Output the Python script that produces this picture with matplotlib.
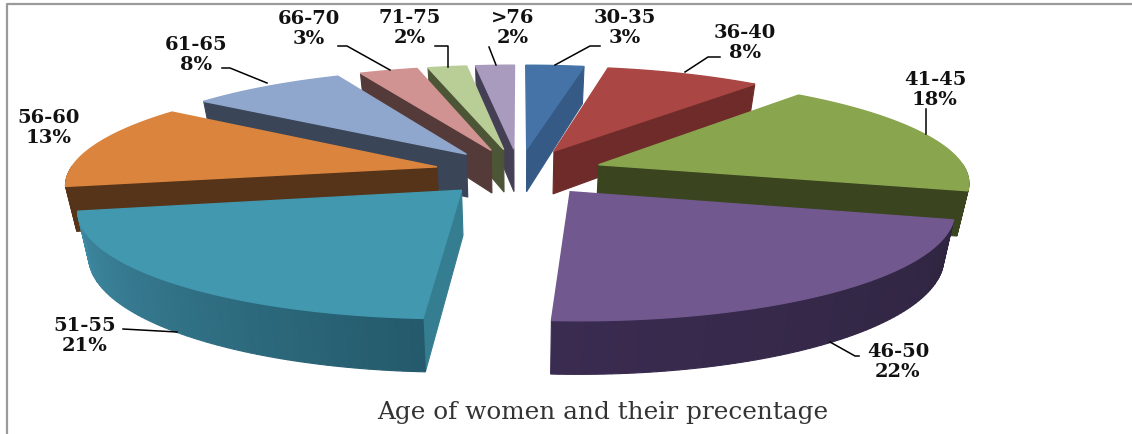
import numpy as np
from matplotlib import pyplot as plt
from matplotlib.colors import to_rgb

age_groups = ['30-35', '36-40', '41-45', '46-50', '51-55', '56-60', '61-65', '66-70', '71-75', '>76']
percentages = [3, 8, 18, 22, 21, 13, 8, 3, 2, 2]

top_colors = ['#4573a7', '#aa4644', '#89a54e', '#71588f', '#4198af',
              '#db843d', '#8fa6cd', '#d19392', '#b9cd96', '#a99bbd']
wall_colors = ['#355a85', '#6e2b2a', '#3a441f', '#2f2540', '#357d90',
               '#56341a', '#3a4558', '#553a3a', '#4c5535', '#453f55']
# outer rim colours, (start of arc, end of arc)
rim_colors = [('#355a85', '#355a85'), ('#6e2b2a', '#6e2b2a'), ('#3a441f', '#3a441f'),
              ('#2f2540', '#3a2b50'), ('#245a6b', '#3f8aa3'), ('#56341a', '#56341a'),
              ('#3a4558', '#3a4558'), ('#553a3a', '#553a3a'), ('#4c5535', '#4c5535'),
              ('#453f55', '#453f55')]

label_pos = [(625, 28), (745, 43), (935, 90), (898, 362), (85, 336),
             (49, 128), (196, 55), (309, 29), (410, 28), (513, 28)]
leaders = [
    [(555, 66), (590, 47), (600, 47)],
    [(685, 73), (708, 58), (720, 58)],
    [(926, 135), (926, 110)],
    [(830, 343), (855, 357), (859, 357)],
    [(177, 333), (123, 330)],
    None,
    [(267, 84), (230, 69), (222, 69)],
    [(390, 71), (347, 47), (338, 47)],
    [(448, 68), (448, 47), (435, 47)],
    [(496, 66), (489, 48)],
]

# projection of the tilted pie onto the page, in pixels
cx, cy = 519, 173
rx, ry = 368, 103
persp = 6.63
depth = 44
taper = 0.025
explode = 0.23


def project(x, y, down=0.0):
    s = persp / (persp + y)
    return cx + rx * x * s * (1 - taper * down), cy - ry * y * s + depth * down * s


def slice_outline(start, end):
    mid = (start + end) / 2
    ox, oy = explode * np.sin(mid), explode * np.cos(mid)
    th = np.linspace(start, end, 80)
    return ox, oy, th, ox + np.sin(th), oy + np.cos(th)


def draw_quad(ax, x0, y0, x1, y1, color, zorder):
    ax0, ay0 = project(x0, y0)
    ax1, ay1 = project(x1, y1)
    bx0, by0 = project(x0, y0, 1)
    bx1, by1 = project(x1, y1, 1)
    ax.fill([ax0, ax1, bx1, bx0], [ay0, ay1, by1, by0], color=color, lw=0.8, zorder=zorder)


fig = plt.figure(figsize=(11.32, 4.35), dpi=100)
ax = fig.add_axes([0, 0, 1, 1])
ax.set_xlim(0, 1132)
ax.set_ylim(435, 0)
ax.axis('off')

# outer frame, only the top and left sides show
ax.plot([7, 7, 1132], [435, 4.5, 4.5], color='#9a9a9a', lw=1.6, zorder=1)

edges = np.cumsum([0] + percentages) / sum(percentages) * 2 * np.pi
mids = (edges[:-1] + edges[1:]) / 2
# paint from the back of the pie to the front
order = np.argsort(-np.cos(mids))

for rank, i in enumerate(order):
    z = 2 + rank
    ox, oy, th, xs, ys = slice_outline(edges[i], edges[i + 1])
    # cut faces, only the ones turned towards the viewer
    if np.sin(edges[i]) < 0:
        draw_quad(ax, ox, oy, xs[0], ys[0], wall_colors[i], z)
    if np.sin(edges[i + 1]) > 0:
        draw_quad(ax, ox, oy, xs[-1], ys[-1], wall_colors[i], z)
    c0, c1 = np.array(to_rgb(rim_colors[i][0])), np.array(to_rgb(rim_colors[i][1]))
    for k in range(len(xs) - 1):
        if np.cos(th[k]) > 0 and np.cos(th[k + 1]) > 0:
            continue
        t = k / (len(xs) - 2)
        draw_quad(ax, xs[k], ys[k], xs[k + 1], ys[k + 1], tuple(c0 + (c1 - c0) * t), z)
    tx, ty = project(np.r_[ox, xs], np.r_[oy, ys])
    ax.fill(tx, ty, color=top_colors[i], lw=1.0, zorder=z)

for line in leaders:
    if line is not None:
        ax.plot(*zip(*line), color='black', lw=1.1, zorder=20)

for i, pos in enumerate(label_pos):
    ax.text(pos[0], pos[1], f'{age_groups[i]}\n{percentages[i]}%', ha='center', va='center',
            family='DejaVu Serif', weight='bold', fontsize=14, linespacing=1.2,
            color='#111111', zorder=21)

ax.text(603, 413, 'Age of women and their precentage', ha='center', va='center',
        family='DejaVu Serif', fontsize=17.8, color='#333333', zorder=21)

fig.savefig('out.png', dpi=100)
